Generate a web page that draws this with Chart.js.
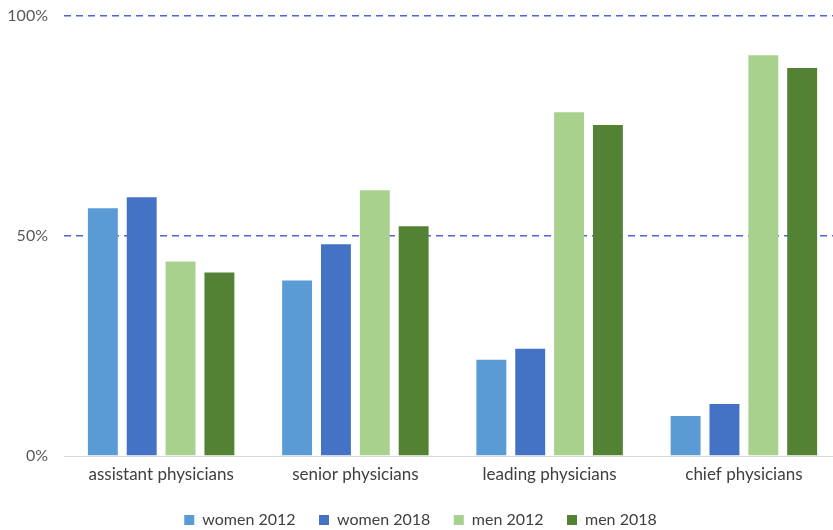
<!DOCTYPE html>
<html>
<head>
<meta charset="utf-8">
<script src="https://cdn.jsdelivr.net/npm/chart.js@4/dist/chart.umd.min.js"></script>
<style>
  body { margin: 0; background: #fff; }
  #clip { width: 833px; height: 530px; overflow: hidden; }
  #wrap { width: 841px; height: 538px; }
</style>
</head>
<body>
<div id="clip"><div id="wrap"><canvas id="physicians"></canvas></div></div>
<script>
var categories = ['assistant physicians', 'senior physicians', 'leading physicians', 'chief physicians'];
var seriesNames = ['women 2012', 'women 2018', 'men 2012', 'men 2018'];
var women2012 = [56.3, 39.9, 21.9, 9.1];
var women2018 = [58.8, 48.1, 24.4, 11.8];
var men2012 = [44.2, 60.4, 78.1, 91.1];
var men2018 = [41.7, 52.2, 75.2, 88.2];
var yTicks = [0, 50, 100];

var colors = ['#5b9bd5', '#4472c4', '#a9d18e', '#548235'];
var values = [women2012, women2018, men2012, men2018];

var datasets = seriesNames.map(function (name, i) {
  return {
    label: name,
    data: values[i],
    backgroundColor: colors[i],
    borderWidth: 0,
    categoryPercentage: 0.8,
    barPercentage: 0.77
  };
});

var ctx = document.getElementById('physicians').getContext('2d');
var myChart = new Chart(ctx, {
  type: 'bar',
  data: { labels: categories, datasets: datasets },
  options: {
    responsive: true,
    maintainAspectRatio: false,
    animation: false,
    layout: { padding: { left: 0, right: 0, top: 16, bottom: 0 } },
    plugins: {
      tooltip: { enabled: false },
      legend: {
        position: 'bottom',
        labels: {
          boxWidth: 10,
          boxHeight: 10,
          padding: 3,
          color: '#404040',
          font: { family: 'Lato', size: 16 },
          // widen the gap between items without touching the vertical padding
          generateLabels: function (chart) {
            var items = Chart.defaults.plugins.legend.labels.generateLabels(chart);
            items.forEach(function (it, i) {
              if (i < items.length - 1) it.text = it.text + '     ';
            });
            return items;
          }
        }
      }
    },
    scales: {
      x: {
        grid: { display: false },
        border: { display: true, color: '#d9d9d9', width: 1 },
        ticks: { color: '#404040', padding: 0, font: { family: 'Lato', size: 17 } },
        afterFit: function (axis) { axis.height = 53; }
      },
      y: {
        min: 0,
        max: 100,
        afterBuildTicks: function (axis) {
          axis.ticks = yTicks.map(function (v) { return { value: v }; });
        },
        afterFit: function (axis) { axis.width = 64; axis.paddingTop = 0; },
        border: { display: false, dash: [7, 5] },
        grid: {
          drawTicks: false,
          lineWidth: 1.5,
          color: function (c) { return c.tick && c.tick.value === 0 ? 'rgba(0,0,0,0)' : '#4f64d6'; }
        },
        ticks: {
          color: '#595959',
          padding: 16,
          font: { family: 'Lato', size: 16 },
          callback: function (v) { return v + '%'; }
        }
      }
    }
  }
});
</script>
</body>
</html>
